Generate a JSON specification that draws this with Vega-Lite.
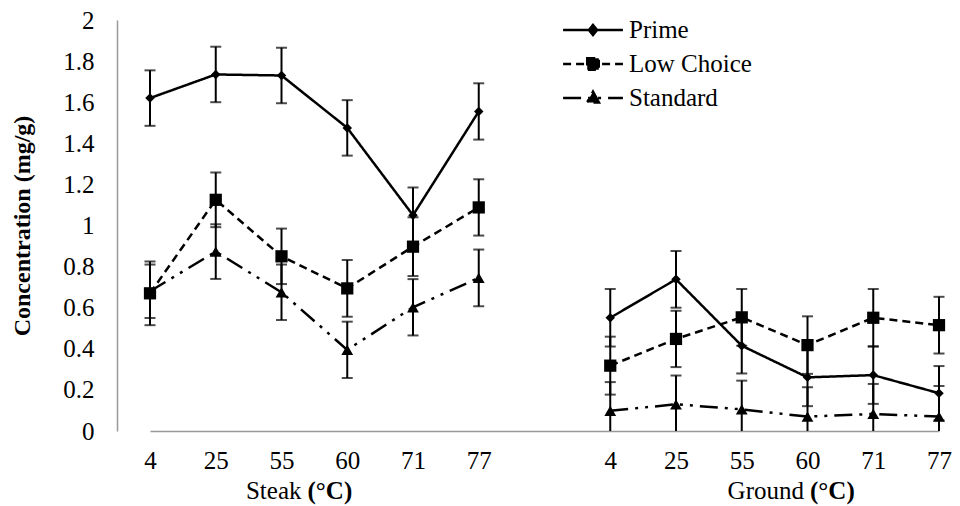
{
  "$schema": "https://vega.github.io/schema/vega-lite/v6.json",
  "width": 843,
  "height": 411,
  "autosize": "none",
  "padding": {"left": 117, "top": 20, "right": 0, "bottom": 75},
  "background": "white",
  "config": {
    "font": "Liberation Serif",
    "view": {"stroke": null},
    "axis": {"labelFont": "Liberation Serif", "titleFont": "Liberation Serif", "labelColor": "black", "titleColor": "black"},
    "legend": {"labelFont": "Liberation Serif"},
    "text": {"font": "Liberation Serif"}
  },
  "datasets": {
    "pts": [
      {"series": "Prime", "cut": "Steak", "pos": "Steak 4", "i": 1, "v": 1.62, "e": 0.135},
      {"series": "Prime", "cut": "Steak", "pos": "Steak 25", "i": 2, "v": 1.735, "e": 0.135},
      {"series": "Prime", "cut": "Steak", "pos": "Steak 55", "i": 3, "v": 1.73, "e": 0.135},
      {"series": "Prime", "cut": "Steak", "pos": "Steak 60", "i": 4, "v": 1.475, "e": 0.135},
      {"series": "Prime", "cut": "Steak", "pos": "Steak 71", "i": 5, "v": 1.05, "e": 0.135},
      {"series": "Prime", "cut": "Steak", "pos": "Steak 77", "i": 6, "v": 1.555, "e": 0.137},
      {"series": "Prime", "cut": "Ground", "pos": "Ground 4", "i": 8, "v": 0.551, "e": 0.14},
      {"series": "Prime", "cut": "Ground", "pos": "Ground 25", "i": 9, "v": 0.738, "e": 0.138},
      {"series": "Prime", "cut": "Ground", "pos": "Ground 55", "i": 10, "v": 0.415, "e": 0.135},
      {"series": "Prime", "cut": "Ground", "pos": "Ground 60", "i": 11, "v": 0.261, "e": 0.14},
      {"series": "Prime", "cut": "Ground", "pos": "Ground 71", "i": 12, "v": 0.272, "e": 0.14},
      {"series": "Prime", "cut": "Ground", "pos": "Ground 77", "i": 13, "v": 0.184, "e": 0.132},
      {"series": "Low Choice", "cut": "Steak", "pos": "Steak 4", "i": 1, "v": 0.67, "e": 0.155},
      {"series": "Low Choice", "cut": "Steak", "pos": "Steak 25", "i": 2, "v": 1.125, "e": 0.133},
      {"series": "Low Choice", "cut": "Steak", "pos": "Steak 55", "i": 3, "v": 0.85, "e": 0.135},
      {"series": "Low Choice", "cut": "Steak", "pos": "Steak 60", "i": 4, "v": 0.694, "e": 0.138},
      {"series": "Low Choice", "cut": "Steak", "pos": "Steak 71", "i": 5, "v": 0.897, "e": 0.143},
      {"series": "Low Choice", "cut": "Steak", "pos": "Steak 77", "i": 6, "v": 1.088, "e": 0.137},
      {"series": "Low Choice", "cut": "Ground", "pos": "Ground 4", "i": 8, "v": 0.318, "e": 0.141},
      {"series": "Low Choice", "cut": "Ground", "pos": "Ground 25", "i": 9, "v": 0.448, "e": 0.137},
      {"series": "Low Choice", "cut": "Ground", "pos": "Ground 55", "i": 10, "v": 0.553, "e": 0.138},
      {"series": "Low Choice", "cut": "Ground", "pos": "Ground 60", "i": 11, "v": 0.418, "e": 0.14},
      {"series": "Low Choice", "cut": "Ground", "pos": "Ground 71", "i": 12, "v": 0.551, "e": 0.14},
      {"series": "Low Choice", "cut": "Ground", "pos": "Ground 77", "i": 13, "v": 0.515, "e": 0.138},
      {"series": "Standard", "cut": "Steak", "pos": "Steak 4", "i": 1, "v": 0.68, "e": 0.13},
      {"series": "Standard", "cut": "Steak", "pos": "Steak 25", "i": 2, "v": 0.873, "e": 0.133},
      {"series": "Standard", "cut": "Steak", "pos": "Steak 55", "i": 3, "v": 0.675, "e": 0.135},
      {"series": "Standard", "cut": "Steak", "pos": "Steak 60", "i": 4, "v": 0.395, "e": 0.137},
      {"series": "Standard", "cut": "Steak", "pos": "Steak 71", "i": 5, "v": 0.602, "e": 0.137},
      {"series": "Standard", "cut": "Steak", "pos": "Steak 77", "i": 6, "v": 0.745, "e": 0.138},
      {"series": "Standard", "cut": "Ground", "pos": "Ground 4", "i": 8, "v": 0.098, "e": 0.14},
      {"series": "Standard", "cut": "Ground", "pos": "Ground 25", "i": 9, "v": 0.13, "e": 0.14},
      {"series": "Standard", "cut": "Ground", "pos": "Ground 55", "i": 10, "v": 0.105, "e": 0.14},
      {"series": "Standard", "cut": "Ground", "pos": "Ground 60", "i": 11, "v": 0.07, "e": 0.143},
      {"series": "Standard", "cut": "Ground", "pos": "Ground 71", "i": 12, "v": 0.083, "e": 0.146},
      {"series": "Standard", "cut": "Ground", "pos": "Ground 77", "i": 13, "v": 0.07, "e": 0.149}
    ]
  },
  "data": {"name": "pts"},
  "layer": [
    {
      "mark": {"type": "errorbar", "ticks": {"size": 11, "thickness": 2, "color": "black"}, "thickness": 2, "color": "black", "clip": true},
      "encoding": {
        "x": {"field": "pos", "type": "ordinal",
          "scale": {"type": "point", "padding": 0, "range": [33, 822],
            "domain": ["Steak 4", "Steak 25", "Steak 55", "Steak 60", "Steak 71", "Steak 77", "gap", "Ground 4", "Ground 25", "Ground 55", "Ground 60", "Ground 71", "Ground 77"]},
          "axis": {"title": null, "labelExpr": "datum.value == 'gap' ? '' : split(datum.value, ' ')[1]", "ticks": false, "labelFont": "Liberation Serif", "labelFontSize": 25, "labelPadding": 17, "labelAngle": 0, "domainColor": "#999999", "domainWidth": 1.5, "grid": false}},
        "y": {"field": "v", "type": "quantitative",
          "scale": {"domain": [0, 2], "nice": false, "zero": true},
          "axis": {"title": "Concentration (mg/g)", "values": [0, 0.2, 0.4, 0.6, 0.8, 1, 1.2, 1.4, 1.6, 1.8, 2], "format": ".1~f", "ticks": false, "grid": false, "labelFont": "Liberation Serif", "labelFontSize": 25, "labelPadding": 23, "domainColor": "#999999", "domainWidth": 1.5, "titleFont": "Liberation Serif", "titleFontSize": 24, "titleFontWeight": "bold", "titlePadding": 28}},
        "yError": {"field": "e"},
        "detail": {"field": "series", "type": "nominal"}
      }
    },
    {
      "mark": {"type": "line", "strokeWidth": 2.5, "color": "black"},
      "encoding": {
        "x": {"field": "pos", "type": "ordinal"},
        "y": {"field": "v", "type": "quantitative"},
        "order": {"field": "i", "type": "quantitative"},
        "detail": {"field": "cut", "type": "nominal"},
        "strokeDash": {"field": "series", "type": "nominal",
          "scale": {"domain": ["Prime", "Low Choice", "Standard"], "range": [[1, 0], [8, 5], [18, 7, 3, 7, 3, 7]]},
          "legend": {"title": null, "orient": "none", "legendX": 457, "legendY": -9,
            "labelFont": "Liberation Serif", "labelFontSize": 25, "labelColor": "black", "symbolSize": 1225, "symbolStrokeWidth": 2.5,
            "symbolStrokeColor": "black", "symbolFillColor": "black", "labelOffset": 17, "rowPadding": 2,
            "encode": {"symbols": {"update": {
              "shape": {"signal": "datum.value === 'Prime' ? 'M-1.71,0L1.71,0M0,-0.29L0.23,0L0,0.29L-0.23,0Z' : datum.value === 'Low Choice' ? 'M-1.71,0L1.71,0M-0.33,-0.33L0.33,-0.33L0.33,0.33L-0.33,0.33Z' : 'M-1.71,0L1.71,0M0,-0.37L0.34,0.26L-0.34,0.26Z'"},
              "fill": {"value": "black"},
              "stroke": {"value": "black"},
              "strokeWidth": {"value": 2.5},
              "size": {"value": 1225}
            }}}}
        }
      }
    },
    {
      "transform": [{"filter": "datum.series === 'Prime'"}],
      "mark": {"type": "point", "filled": true, "opacity": 1, "color": "black", "shape": "diamond", "size": 90},
      "encoding": {"x": {"field": "pos", "type": "ordinal"}, "y": {"field": "v", "type": "quantitative"}}
    },
    {
      "transform": [{"filter": "datum.series === 'Low Choice'"}],
      "mark": {"type": "point", "filled": true, "opacity": 1, "color": "black", "shape": "square", "size": 150},
      "encoding": {"x": {"field": "pos", "type": "ordinal"}, "y": {"field": "v", "type": "quantitative"}}
    },
    {
      "transform": [{"filter": "datum.series === 'Standard'"}],
      "mark": {"type": "point", "filled": true, "opacity": 1, "color": "black", "shape": "triangle-up", "size": 140},
      "encoding": {"x": {"field": "pos", "type": "ordinal"}, "y": {"field": "v", "type": "quantitative"}}
    },
    {
      "data": {"values": [{"t": "Steak"}]},
      "mark": {"type": "text", "align": "right", "baseline": "middle", "font": "Liberation Serif", "fontSize": 25, "dx": 20, "color": "black"},
      "encoding": {"x": {"datum": "Steak 55", "type": "ordinal"}, "y": {"datum": -0.29, "type": "quantitative"}, "text": {"field": "t"}}
    },
    {
      "data": {"values": [{"t": "(°C)"}]},
      "mark": {"type": "text", "align": "left", "baseline": "middle", "font": "Liberation Serif", "fontSize": 25, "fontWeight": "bold", "dx": 26, "color": "black"},
      "encoding": {"x": {"datum": "Steak 55", "type": "ordinal"}, "y": {"datum": -0.29, "type": "quantitative"}, "text": {"field": "t"}}
    },
    {
      "data": {"values": [{"t": "Ground"}]},
      "mark": {"type": "text", "align": "right", "baseline": "middle", "font": "Liberation Serif", "fontSize": 25, "dx": -3.5, "color": "black"},
      "encoding": {"x": {"datum": "Ground 60", "type": "ordinal"}, "y": {"datum": -0.29, "type": "quantitative"}, "text": {"field": "t"}}
    },
    {
      "data": {"values": [{"t": "(°C)"}]},
      "mark": {"type": "text", "align": "left", "baseline": "middle", "font": "Liberation Serif", "fontSize": 25, "fontWeight": "bold", "dx": 2.5, "color": "black"},
      "encoding": {"x": {"datum": "Ground 60", "type": "ordinal"}, "y": {"datum": -0.29, "type": "quantitative"}, "text": {"field": "t"}}
    }
  ]
}
